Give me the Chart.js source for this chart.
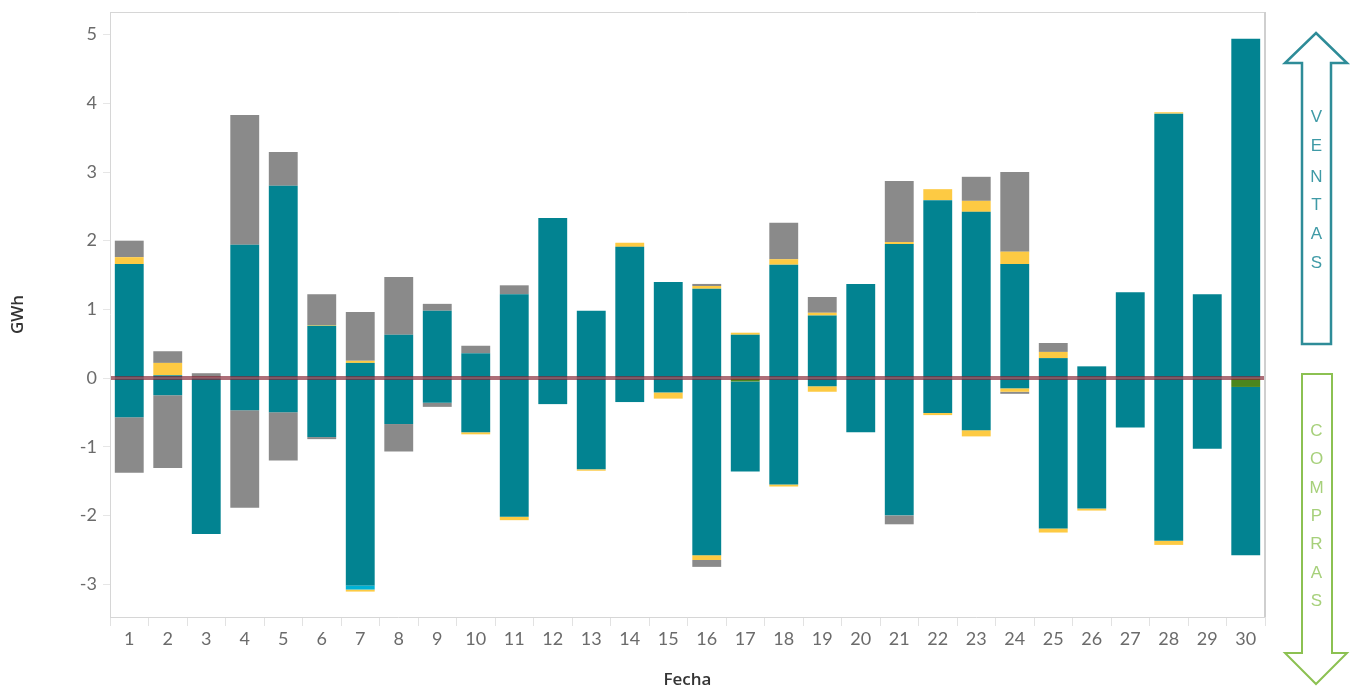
<!DOCTYPE html>
<html>
<head>
<meta charset="utf-8">
<script src="https://cdn.jsdelivr.net/npm/chart.js@4.4.1/dist/chart.umd.min.js"></script>
<style>
  html, body { margin: 0; padding: 0; background: #ffffff; }
  #wrap { position: relative; width: 1356px; height: 690px; }
  #c { position: absolute; left: 0; top: 0; }
  #arrows { position: absolute; left: 0; top: 0; pointer-events: none; }
</style>
</head>
<body>
<div id="wrap">
  <canvas id="c" width="1356" height="690"></canvas>
  <svg id="arrows" width="1356" height="690" xmlns="http://www.w3.org/2000/svg">
    <path d="M1316,33 L1347,63 L1331,63 L1331,344 L1302,344 L1302,63 L1285,63 Z" fill="#ffffff" stroke="#2e8c98" stroke-width="2.5" stroke-linejoin="miter"/>
    <g font-family="Liberation Sans, Arial, sans-serif" font-size="17" fill="#3f9aa6" text-anchor="middle" dominant-baseline="central">
      <text x="1316.5" y="116">V</text>
      <text x="1316.5" y="145">E</text>
      <text x="1316.5" y="176">N</text>
      <text x="1316.5" y="204">T</text>
      <text x="1316.5" y="233">A</text>
      <text x="1316.5" y="262">S</text>
    </g>
    <path d="M1302,374 L1332,374 L1332,653 L1347,653 L1316,684 L1285,653 L1302,653 Z" fill="#ffffff" stroke="#8cc152" stroke-width="2" stroke-linejoin="miter"/>
    <g font-family="Liberation Sans, Arial, sans-serif" font-size="17" fill="#a6d07a" text-anchor="middle" dominant-baseline="central">
      <text x="1316.5" y="430">C</text>
      <text x="1316.5" y="458">O</text>
      <text x="1316.5" y="487">M</text>
      <text x="1316.5" y="515">P</text>
      <text x="1316.5" y="543">R</text>
      <text x="1316.5" y="572">A</text>
      <text x="1316.5" y="600">S</text>
    </g>
  </svg>
</div>
<script>
// ---- Data ----
const categories = ['1','2','3','4','5','6','7','8','9','10','11','12','13','14','15','16','17','18','19','20','21','22','23','24','25','26','27','28','29','30'];
const yTickValues = [-3, -2, -1, 0, 1, 2, 3, 4, 5];

// Positive (ventas) parts
const tealPos   = [1.66,0.04,0,1.94,2.80,0.76,0.22,0.63,0.98,0.36,1.22,2.33,0.98,1.91,1.40,1.30,0.63,1.65,0.91,1.37,1.95,2.59,2.42,1.66,0.29,0.17,1.25,3.85,1.22,4.94];
const yellowPos = [0.10,0.18,0,0,0,0.01,0.03,0,0,0,0,0,0,0.06,0,0.04,0.03,0.08,0.04,0,0.03,0.16,0.16,0.18,0.09,0,0,0.02,0,0];
const grayPos   = [0.24,0.17,0.07,1.89,0.49,0.45,0.71,0.84,0.10,0.11,0.13,0,0,0,0,0.03,0,0.53,0.23,0,0.89,0,0.35,1.16,0.13,0,0,0,0,0];

// Negative (compras) parts
const greenNeg  = [0,0,0,0,0,0,0,0,0,0,0,0,0,0,0,0,-0.05,0,0,0,0,0,0,0,0,0,0,0,0,-0.13];
const tealNeg   = [-0.57,-0.25,-2.27,-0.47,-0.50,-0.86,-3.02,-0.67,-0.36,-0.79,-2.02,-0.38,-1.33,-0.35,-0.21,-2.58,-1.31,-1.55,-0.12,-0.79,-2.00,-0.51,-0.76,-0.15,-2.19,-1.90,-0.72,-2.37,-1.03,-2.45];
const cyanNeg   = [0,0,0,0,0,0,-0.06,0,0,0,0,0,0,0,0,0,0,0,0,0,0,0,0,0,0,0,0,0,0,0];
const yellowNeg = [0,0,0,0,0,0,-0.03,0,0,-0.03,-0.05,0,-0.02,0,-0.09,-0.07,0,-0.03,-0.08,0,0,-0.03,-0.09,-0.05,-0.06,-0.03,0,-0.06,0,0];
const grayNeg   = [-0.81,-1.06,0,-1.42,-0.70,-0.03,0,-0.40,-0.06,0,0,0,0,0,0,-0.10,0,0,0,0,-0.13,0,0,-0.03,0,0,0,0,0,0];

// ---- Styles ----
const C_TEAL = '#028391', C_YELLOW = '#fdca43', C_GRAY = '#8a8a8a', C_GREEN = '#4c861e', C_CYAN = '#00b2d6';

function ds(label, data, color) {
  return { label, data, backgroundColor: color, borderWidth: 0, stack: 's',
           barPercentage: 0.75, categoryPercentage: 1.0 };
}

const frame = {
  id: 'frame',
  beforeDatasetsDraw(chart) {
    const { ctx, chartArea: a } = chart;
    ctx.save();
    ctx.strokeStyle = '#d6d6d6';
    ctx.lineWidth = 1;
    ctx.beginPath();
    ctx.moveTo(a.left + 0.5, a.top + 0.5);
    ctx.lineTo(a.right, a.top + 0.5);
    ctx.moveTo(a.left + 0.5, a.top);
    ctx.lineTo(a.left + 0.5, a.bottom);
    ctx.moveTo(a.left, a.bottom + 0.5);
    ctx.lineTo(a.right, a.bottom + 0.5);
    ctx.stroke();
    ctx.strokeStyle = '#cfcfcf';
    ctx.lineWidth = 2;
    ctx.beginPath();
    ctx.moveTo(a.right, a.top);
    ctx.lineTo(a.right, a.bottom);
    ctx.stroke();
    ctx.restore();
  },
  afterDatasetsDraw(chart) {
    const { ctx, chartArea: a, scales } = chart;
    const y0 = scales.y.getPixelForValue(0);
    ctx.save();
    ctx.strokeStyle = 'rgba(130,35,50,0.66)';
    ctx.lineWidth = 4;
    ctx.beginPath();
    ctx.moveTo(a.left + 1, y0);
    ctx.lineTo(a.right - 1, y0);
    ctx.stroke();
    ctx.restore();
  }
};

new Chart(document.getElementById('c'), {
  type: 'bar',
  data: {
    labels: categories,
    datasets: [
      ds('Verde', greenNeg, C_GREEN),
      ds('Principal +', tealPos, C_TEAL),
      ds('Principal -', tealNeg, C_TEAL),
      ds('Cian -', cyanNeg, C_CYAN),
      ds('Amarillo +', yellowPos, C_YELLOW),
      ds('Amarillo -', yellowNeg, C_YELLOW),
      ds('Gris +', grayPos, C_GRAY),
      ds('Gris -', grayNeg, C_GRAY)
    ]
  },
  options: {
    responsive: false,
    animation: false,
    events: [],
    layout: { padding: { left: 0, top: 12, right: 91, bottom: 0 } },
    plugins: { legend: { display: false }, tooltip: { enabled: false } },
    scales: {
      x: {
        stacked: true,
        offset: true,
        border: { display: false },
        grid: { offset: true, drawOnChartArea: false, drawTicks: true, tickLength: 9, color: '#e2e2e2', lineWidth: 1 },
        ticks: { color: '#6b6b6b', font: { family: 'Lato, "Open Sans", sans-serif', size: 18 }, padding: 2, maxRotation: 0, autoSkip: false },
        title: { display: true, text: 'Fecha', color: '#333333', font: { family: '"Open Sans", Lato, sans-serif', size: 17, weight: '600' }, padding: { top: 0, bottom: 0 } },
        afterFit(scale) { scale.height = 73; scale.paddingLeft = 0; scale.paddingRight = 0; }
      },
      y: {
        stacked: true,
        min: -3.48,
        max: 5.33,
        border: { display: false },
        grid: { drawOnChartArea: false, drawTicks: true, tickLength: 7, color: '#e6e6e6' },
        afterBuildTicks(scale) { scale.ticks = yTickValues.map(v => ({ value: v })); },
        ticks: { color: '#6b6b6b', font: { family: 'Lato, "Open Sans", sans-serif', size: 18 }, padding: 6 },
        title: { display: true, text: 'GWh', color: '#333333', font: { family: '"Open Sans", Lato, sans-serif', size: 17, weight: '600' }, padding: { top: 8, bottom: 0 } },
        afterFit(scale) { scale.width = 110; scale.paddingTop = 0; scale.paddingBottom = 0; }
      }
    }
  },
  plugins: [frame]
});
</script>
</body>
</html>
